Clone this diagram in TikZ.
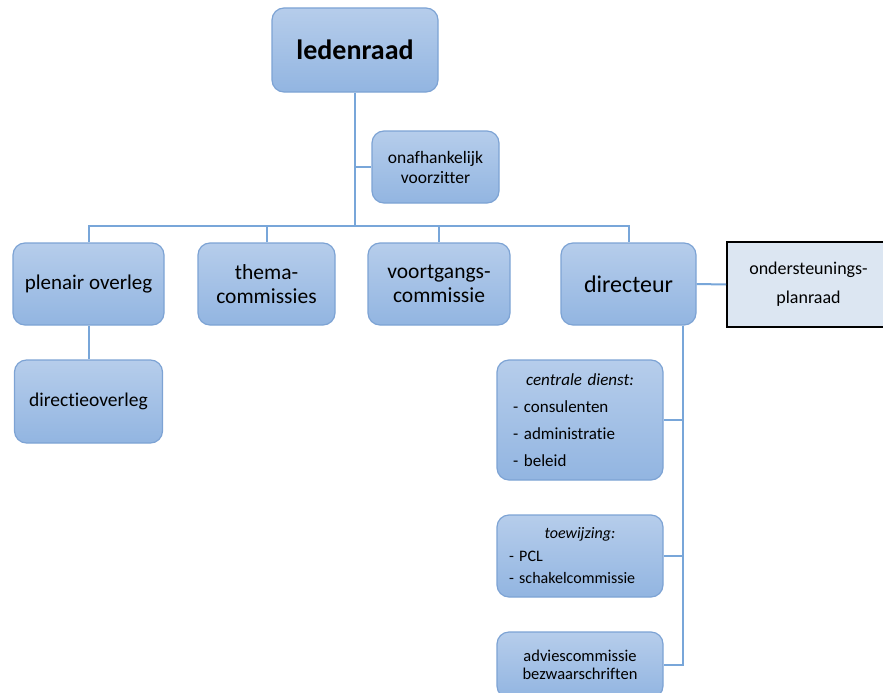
\documentclass[tikz,border=0pt]{standalone}
\usepackage{fontspec}
\setmainfont[Ligatures=NoCommon]{Carlito}
\definecolor{boxtop}{RGB}{182,205,235}
\definecolor{boxbot}{RGB}{146,181,225}
\definecolor{boxrand}{RGB}{125,163,212}
\definecolor{lijnkleur}{RGB}{120,166,217}
\definecolor{steunblauw}{RGB}{220,230,242}
\tikzset{
	orgaan/.style={draw=boxrand, line width=1.2pt, rounded corners=12pt, top color=boxtop, bottom color=boxbot, align=center, inner sep=0pt},
	steun/.style={draw=black, line width=2pt, fill=steunblauw, align=center, inner sep=0pt},
	lijn/.style={draw=lijnkleur, line width=2pt}
}
\newcommand{\fs}[2]{\fontsize{#1}{#2}\selectfont}
\begin{document}
\begin{tikzpicture}[x=1pt,y=-1pt]
	\useasboundingbox (0,0) rectangle (883,693);
	
	\node[orgaan, minimum width=166pt, minimum height=84pt, font=\fs{28}{30}\bfseries] (ledenraad) at (355,50) {ledenraad};
	\node[orgaan, minimum width=127pt, minimum height=72pt, font=\fs{17.5}{20}] (voorzitter) at (435.5,167) {onafhankelijk\\voorzitter};
	
	\node[orgaan, minimum width=151pt, minimum height=82pt, font=\fs{21}{24}] (plenair) at (88.5,284) {plenair overleg};
	\node[orgaan, minimum width=137pt, minimum height=82pt, font=\fs{21.5}{24}] (thema) at (266.5,284) {thema-\\commissies};
	\node[orgaan, minimum width=142pt, minimum height=82pt, font=\fs{21.5}{24}] (voortgang) at (439,284) {voortgangs-\\commissie};
	\node[orgaan, minimum width=135pt, minimum height=82pt, font=\fs{24}{27}] (directeur) at (628.5,284) {directeur};
	\node[steun, minimum width=163pt, minimum height=85pt, font=\fs{18}{29}] (steun) at (808.5,284.5) {ondersteunings-\\planraad};
	
	\node[orgaan, minimum width=148pt, minimum height=83pt, font=\fs{19.5}{22}] (directieoverleg) at (88.5,401.5) {directieoverleg};
	
	\node[orgaan, minimum width=166pt, minimum height=120pt, text width=134pt, align=left, font=\fs{17}{27}] (centrale) at (580,420) {\noindent\hbox to\hsize{\hss\textit{centrale dienst:}\hss}\\- consulenten\\- administratie\\- beleid};
	\node[orgaan, minimum width=166pt, minimum height=82pt, text width=142pt, align=left, font=\fs{16}{22.5}] (toewijzing) at (580,556) {\noindent\hbox to\hsize{\hss\textit{toewijzing:}\hss}\\- PCL\\- schakelcommissie};
	\node[orgaan, minimum width=166pt, minimum height=66pt, font=\fs{16.5}{18}] (advies) at (580,665) {adviescommissie\\bezwaarschriften};
	
	\coordinate (bus) at (355,226);
	\coordinate (spine) at ([xshift=-14pt]directeur.south east);
	
	\draw[lijn] (ledenraad.south) -- (bus);
	\draw[lijn] (voorzitter.west) -- (voorzitter.west -| ledenraad.south);
	\draw[lijn] (plenair.north) |- (bus) -| (directeur.north);
	\draw[lijn] (thema.north) -- (thema.north |- bus);
	\draw[lijn] (voortgang.north) -- (voortgang.north |- bus);
	\draw[lijn] (plenair.south) -- (directieoverleg.north);
	\draw[lijn] (directeur.east) -- (steun.west);
	
	\draw[lijn] (spine) |- (advies.east);
	\draw[lijn] (centrale.east) -- (centrale.east -| spine);
	\draw[lijn] (toewijzing.east) -- (toewijzing.east -| spine);
	
\end{tikzpicture}
\end{document}
